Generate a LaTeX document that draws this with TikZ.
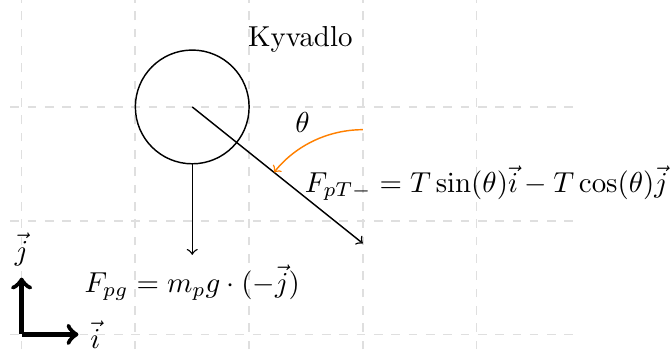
\documentclass[tikz,border=0pt]{standalone}

\begin{document}
\begin{tikzpicture}[x=1.385cm, y=1.385cm, line width=0.5pt]
  \useasboundingbox (-0.19,-0.13) rectangle (5.70,2.94);
  \draw[dashed, gray!25, line width=0.6pt, step={(1,1)}] (-0.1,-0.13) grid (4.9,2.94);
  % kyvadlo
  \coordinate (stred) at (1.5,2);
  \coordinate (spod) at (1.5,1.5);
  \coordinate (tiaz) at (1.5,0.7);
  \coordinate (tah) at (3,0.8);
  \coordinate (uholzac) at (3,1.8);
  \draw (stred) circle (0.5);
  \draw[->] (stred) -- (tah);
  \draw[->] (spod) -- (tiaz) node[below] (Fg) {$F_{pg} = m_p g \cdot (-\vec{j})$};
  \draw[->, orange] (uholzac) arc (90:141.34:1);
  \node (theta) at (2.47,1.86) {$\theta$};
  \node (nazov) at (2.45,2.59) {Kyvadlo};
  \node[anchor=west] (FT) at (2.40,1.33) {$F_{pT-} = T\sin(\theta)\vec{i} - T\cos(\theta)\vec{j}$};
  % baza
  \coordinate (O) at (0,0);
  \draw[->, ultra thick] (O) -- (0.5,0) node[right] (ii) {$\vec{i}$};
  \draw[->, ultra thick] (O) -- (0,0.5) node[above] (jj) {$\vec{j}$};
\end{tikzpicture}
\end{document}
